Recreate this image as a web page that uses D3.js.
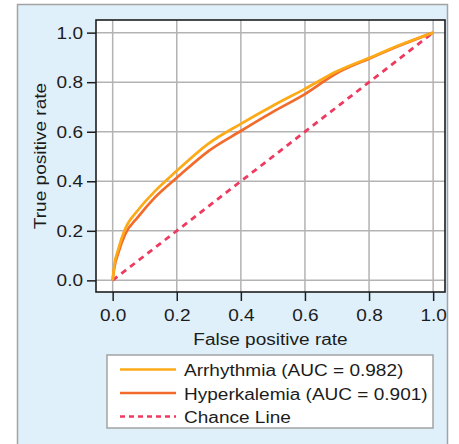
<!DOCTYPE html>
<html>
<head>
<meta charset="utf-8">
<script src="https://cdn.jsdelivr.net/npm/d3@7"></script>
<style>
  body { margin: 0; background: #fff; }
  text { font-family: "Liberation Sans", Arial, sans-serif; fill: #1c1c1c; }
</style>
</head>
<body>
<div id="chart"></div>
<script>
// ROC curves
const fpr_arr = [0, 0.005, 0.0175, 0.038, 0.08, 0.132, 0.2, 0.3, 0.4, 0.5, 0.6, 0.7, 0.8, 0.9, 1];
const tpr_arr = [0, 0.06, 0.125, 0.205, 0.285, 0.36, 0.442, 0.553, 0.632, 0.705, 0.773, 0.844, 0.898, 0.952, 1];
const fpr_hyp = [0, 0.005, 0.0175, 0.038, 0.08, 0.132, 0.2, 0.3, 0.4, 0.5, 0.6, 0.7, 0.8, 0.9, 1];
const tpr_hyp = [0, 0.05, 0.11, 0.183, 0.257, 0.335, 0.414, 0.523, 0.603, 0.68, 0.752, 0.837, 0.895, 0.95, 1];
const chance = [0, 1];
const ticks = [0, 0.2, 0.4, 0.6, 0.8, 1.0];
const legend_labels = ["Arrhythmia (AUC = 0.982)", "Hyperkalemia (AUC = 0.901)", "Chance Line"];

const w = 459, h = 444;
const pLeft = 96, pRight = 445, pTop = 20, pBottom = 292;
const sx = 1.22; // glyphs in the picture are wider than Arial
const fs = 15.6;

const svg = d3.select("#chart").append("svg")
    .attr("width", w)
    .attr("height", h);

// outer panel
svg.append("rect")
    .attr("x", 17.5).attr("y", 4.5)
    .attr("width", 430).attr("height", 470)
    .attr("fill", "#dff0fb")
    .attr("stroke", "#a3a3a3")
    .attr("stroke-width", 1.5);

const xScale = d3.scaleLinear().domain([-0.052, 1.037]).range([pLeft, pRight]);
const yScale = d3.scaleLinear().domain([-0.047, 1.051]).range([pBottom, pTop]);

svg.append("rect")
    .attr("x", pLeft).attr("y", pTop)
    .attr("width", pRight - pLeft).attr("height", pBottom - pTop)
    .attr("fill", "#fff");

// grid
svg.append("g").selectAll("line")
    .data(ticks).enter().append("line")
    .attr("x1", d => xScale(d)).attr("x2", d => xScale(d))
    .attr("y1", pTop).attr("y2", pBottom)
    .attr("stroke", "#b3b3b3").attr("stroke-width", 1.5);
svg.append("g").selectAll("line")
    .data(ticks).enter().append("line")
    .attr("y1", d => yScale(d)).attr("y2", d => yScale(d))
    .attr("x1", pLeft).attr("x2", pRight)
    .attr("stroke", "#b3b3b3").attr("stroke-width", 1.5);

// curves
const line = d3.line()
    .x(d => xScale(d[0]))
    .y(d => yScale(d[1]))
    .curve(d3.curveMonotoneX);

svg.append("path")
    .datum(chance.map(d => [d, d]))
    .attr("d", line)
    .attr("fill", "none")
    .attr("stroke", "#ee3a5f")
    .attr("stroke-width", 2.8)
    .attr("stroke-dasharray", "6,5");

svg.append("path")
    .datum(fpr_hyp.map((d, i) => [d, tpr_hyp[i]]))
    .attr("d", line)
    .attr("fill", "none")
    .attr("stroke", "#f36b2b")
    .attr("stroke-width", 2.7);

svg.append("path")
    .datum(fpr_arr.map((d, i) => [d, tpr_arr[i]]))
    .attr("d", line)
    .attr("fill", "none")
    .attr("stroke", "#fcaa17")
    .attr("stroke-width", 2.7);

// plot frame
svg.append("rect")
    .attr("x", pLeft).attr("y", pTop)
    .attr("width", pRight - pLeft).attr("height", pBottom - pTop)
    .attr("fill", "none")
    .attr("stroke", "#1e1e1e")
    .attr("stroke-width", 1.6);

// axes
const xAxis = d3.axisBottom(xScale).tickValues(ticks).tickSize(9).tickFormat(d3.format(".1f"));
const yAxis = d3.axisLeft(yScale).tickValues(ticks).tickSize(9).tickFormat(d3.format(".1f"));

const gx = svg.append("g")
    .attr("transform", "translate(0," + pBottom + ")")
    .call(xAxis);
gx.select(".domain").remove();
gx.selectAll("line").attr("stroke", "#1e1e1e").attr("stroke-width", 1.5);
gx.selectAll("text")
    .attr("y", 29.5).attr("dy", 0)
    .attr("font-size", fs)
    .attr("transform", "scale(" + sx + ",1)")
    .style("font-family", "Liberation Sans, Arial, sans-serif")
    .attr("fill", "#1c1c1c");

const gy = svg.append("g")
    .attr("transform", "translate(" + pLeft + ",0)")
    .call(yAxis);
gy.select(".domain").remove();
gy.selectAll("line").attr("stroke", "#1e1e1e").attr("stroke-width", 1.5);
gy.selectAll("text")
    .attr("x", -13 / sx)
    .attr("dy", "0.36em")
    .attr("font-size", fs)
    .attr("transform", "scale(" + sx + ",1)")
    .style("font-family", "Liberation Sans, Arial, sans-serif")
    .attr("fill", "#1c1c1c");

// axis labels
svg.append("text")
    .attr("text-anchor", "middle")
    .attr("font-size", fs)
    .attr("transform", "translate(" + (pLeft + pRight) / 2 + ",345) scale(" + sx + ",1)")
    .text("False positive rate");

svg.append("text")
    .attr("text-anchor", "middle")
    .attr("font-size", fs)
    .attr("transform", "translate(46," + (pTop + pBottom) / 2 + ") rotate(-90) scale(" + sx + ",1)")
    .text("True positive rate");

// legend
svg.append("rect")
    .attr("x", 107).attr("y", 355)
    .attr("width", 326).attr("height", 73)
    .attr("fill", "#fff")
    .attr("stroke", "#a3a3a3")
    .attr("stroke-width", 1.5);

const legStyles = [
    {color: "#fcaa17", dash: null},
    {color: "#f36b2b", dash: null},
    {color: "#ee3a5f", dash: "5,4"}
];
const leg = svg.append("g").selectAll("g")
    .data(legend_labels).enter().append("g")
    .attr("transform", (d, i) => "translate(0," + (369.5 + i * 23.5) + ")");
leg.append("line")
    .attr("x1", 120).attr("x2", 176)
    .attr("stroke", (d, i) => legStyles[i].color)
    .attr("stroke-width", 2.4)
    .attr("stroke-dasharray", (d, i) => legStyles[i].dash);
leg.append("text")
    .attr("font-size", fs)
    .attr("transform", "translate(184,6.5) scale(" + sx + ",1)")
    .text(d => d);
</script>
</body>
</html>
